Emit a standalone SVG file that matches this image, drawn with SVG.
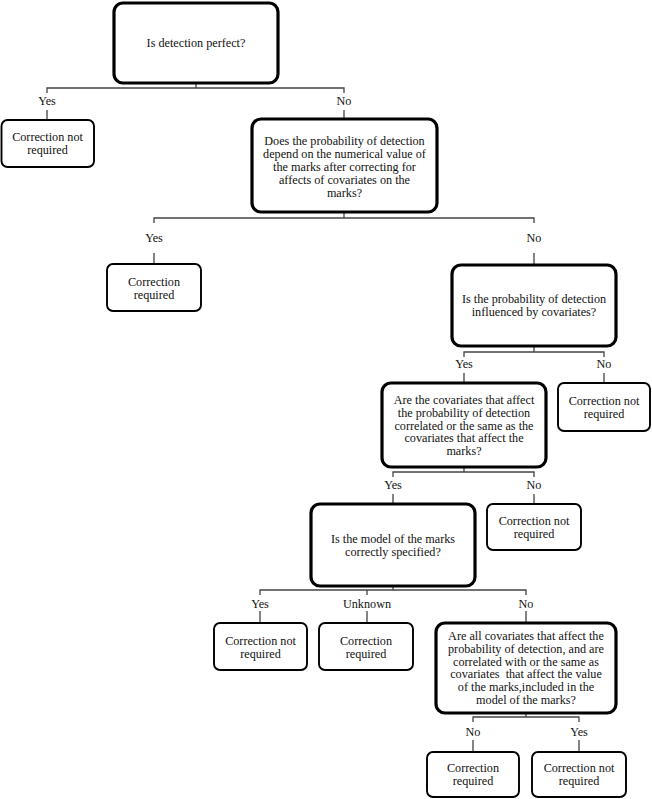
<svg xmlns="http://www.w3.org/2000/svg" width="652" height="799" viewBox="0 0 652 799">
<style>
text{font-family:"Liberation Serif","Times New Roman",serif;font-size:12.2px;fill:#111;text-anchor:middle;white-space:pre}
.q{fill:#fff;stroke:#000;stroke-width:3.2}
.o{fill:#fff;stroke:#000;stroke-width:1.9}
.c{fill:none;stroke:#444;stroke-width:1.3}
</style>
<rect width="652" height="799" fill="#fff"/>
<g id="connectors">
<path class="c" d="M196 83V88M47 93V88H344V93M47 110V120M344 110V119"/>
<path class="c" d="M344 212V218M154 223V218H534V223M154 253V264M534 253V265"/>
<path class="c" d="M534 346V352M464 357V352H604V357M464 373V383M604 373V383"/>
<path class="c" d="M464 467V472M393 477V472H534V477M393 494V504M534 494V504"/>
<path class="c" d="M393 586V590M260 595V590H526V595M367 590V595M260 611V623M367 611V623M526 611V623"/>
<path class="c" d="M526 713V717M473 722V717H579V722M473 740V752M579 740V752"/>
</g>
<g id="labels">
<text x="47" y="105">Yes</text><text x="344" y="105">No</text>
<text x="154" y="242">Yes</text><text x="534" y="242">No</text>
<text x="464" y="368">Yes</text><text x="604" y="368">No</text>
<text x="393" y="489">Yes</text><text x="534" y="489">No</text>
<text x="260" y="608">Yes</text><text x="367" y="608">Unknown</text><text x="526" y="608">No</text>
<text x="473" y="736">No</text><text x="579" y="736">Yes</text>
</g>
<g id="n1"><rect class="q" x="114" y="3" width="164" height="80" rx="9"/><text x="196" y="47">Is detection perfect?</text></g>
<g id="o1"><rect class="o" x="1.5" y="120" width="92.5" height="47" rx="6"/><text x="47.5" y="141">Correction not</text><text x="47.5" y="154">required</text></g>
<g id="n2"><rect class="q" x="252" y="119" width="185" height="93" rx="9"/>
<text x="344.5" y="145">Does the probability of detection</text>
<text x="344.5" y="158">depend on the numerical value of</text>
<text x="344.5" y="171">the marks after correcting for</text>
<text x="344.5" y="184">affects of covariates on the</text>
<text x="344.5" y="197">marks?</text></g>
<g id="o2"><rect class="o" x="107" y="264" width="94" height="47" rx="6"/><text x="154" y="285.5">Correction</text><text x="154" y="298.5">required</text></g>
<g id="n3"><rect class="q" x="452" y="265" width="164" height="81" rx="9"/>
<text x="534" y="303">Is the probability of detection</text>
<text x="534" y="316">influenced by covariates?</text></g>
<g id="n4"><rect class="q" x="382" y="383" width="164" height="84" rx="9"/>
<text x="464" y="404">Are the covariates that affect</text>
<text x="464" y="416.8">the probability of detection</text>
<text x="464" y="429.6">correlated or the same as the</text>
<text x="464" y="442.4">covariates that affect the</text>
<text x="464" y="455.2">marks?</text></g>
<g id="o3"><rect class="o" x="558" y="383" width="92" height="48" rx="6"/><text x="604" y="405">Correction not</text><text x="604" y="418">required</text></g>
<g id="n5"><rect class="q" x="311" y="504" width="164" height="82" rx="9"/>
<text x="393" y="543">Is the model of the marks</text>
<text x="393" y="556">correctly specified?</text></g>
<g id="o4"><rect class="o" x="487" y="504" width="94" height="46" rx="6"/><text x="534" y="524.5">Correction not</text><text x="534" y="537.5">required</text></g>
<g id="o5"><rect class="o" x="214" y="623" width="93" height="47" rx="6"/><text x="260.5" y="644.5">Correction not</text><text x="260.5" y="657.5">required</text></g>
<g id="o6"><rect class="o" x="319" y="623" width="94" height="47" rx="6"/><text x="366" y="644.5">Correction</text><text x="366" y="657.5">required</text></g>
<g id="n6"><rect class="q" x="436" y="623" width="180" height="90" rx="9"/>
<text x="526" y="640">Are all covariates that affect the</text>
<text x="526" y="652.8">probability of detection, and are</text>
<text x="526" y="665.6">correlated with or the same as</text>
<text x="526" y="678.4">covariates  that affect the value</text>
<text x="526" y="691.2">of the marks,included in the</text>
<text x="526" y="704">model of the marks?</text></g>
<g id="o7"><rect class="o" x="427" y="752" width="92" height="45" rx="6"/><text x="473" y="772">Correction</text><text x="473" y="785">required</text></g>
<g id="o8"><rect class="o" x="532" y="752" width="94" height="45" rx="6"/><text x="579" y="772">Correction not</text><text x="579" y="785">required</text></g>
</svg>
